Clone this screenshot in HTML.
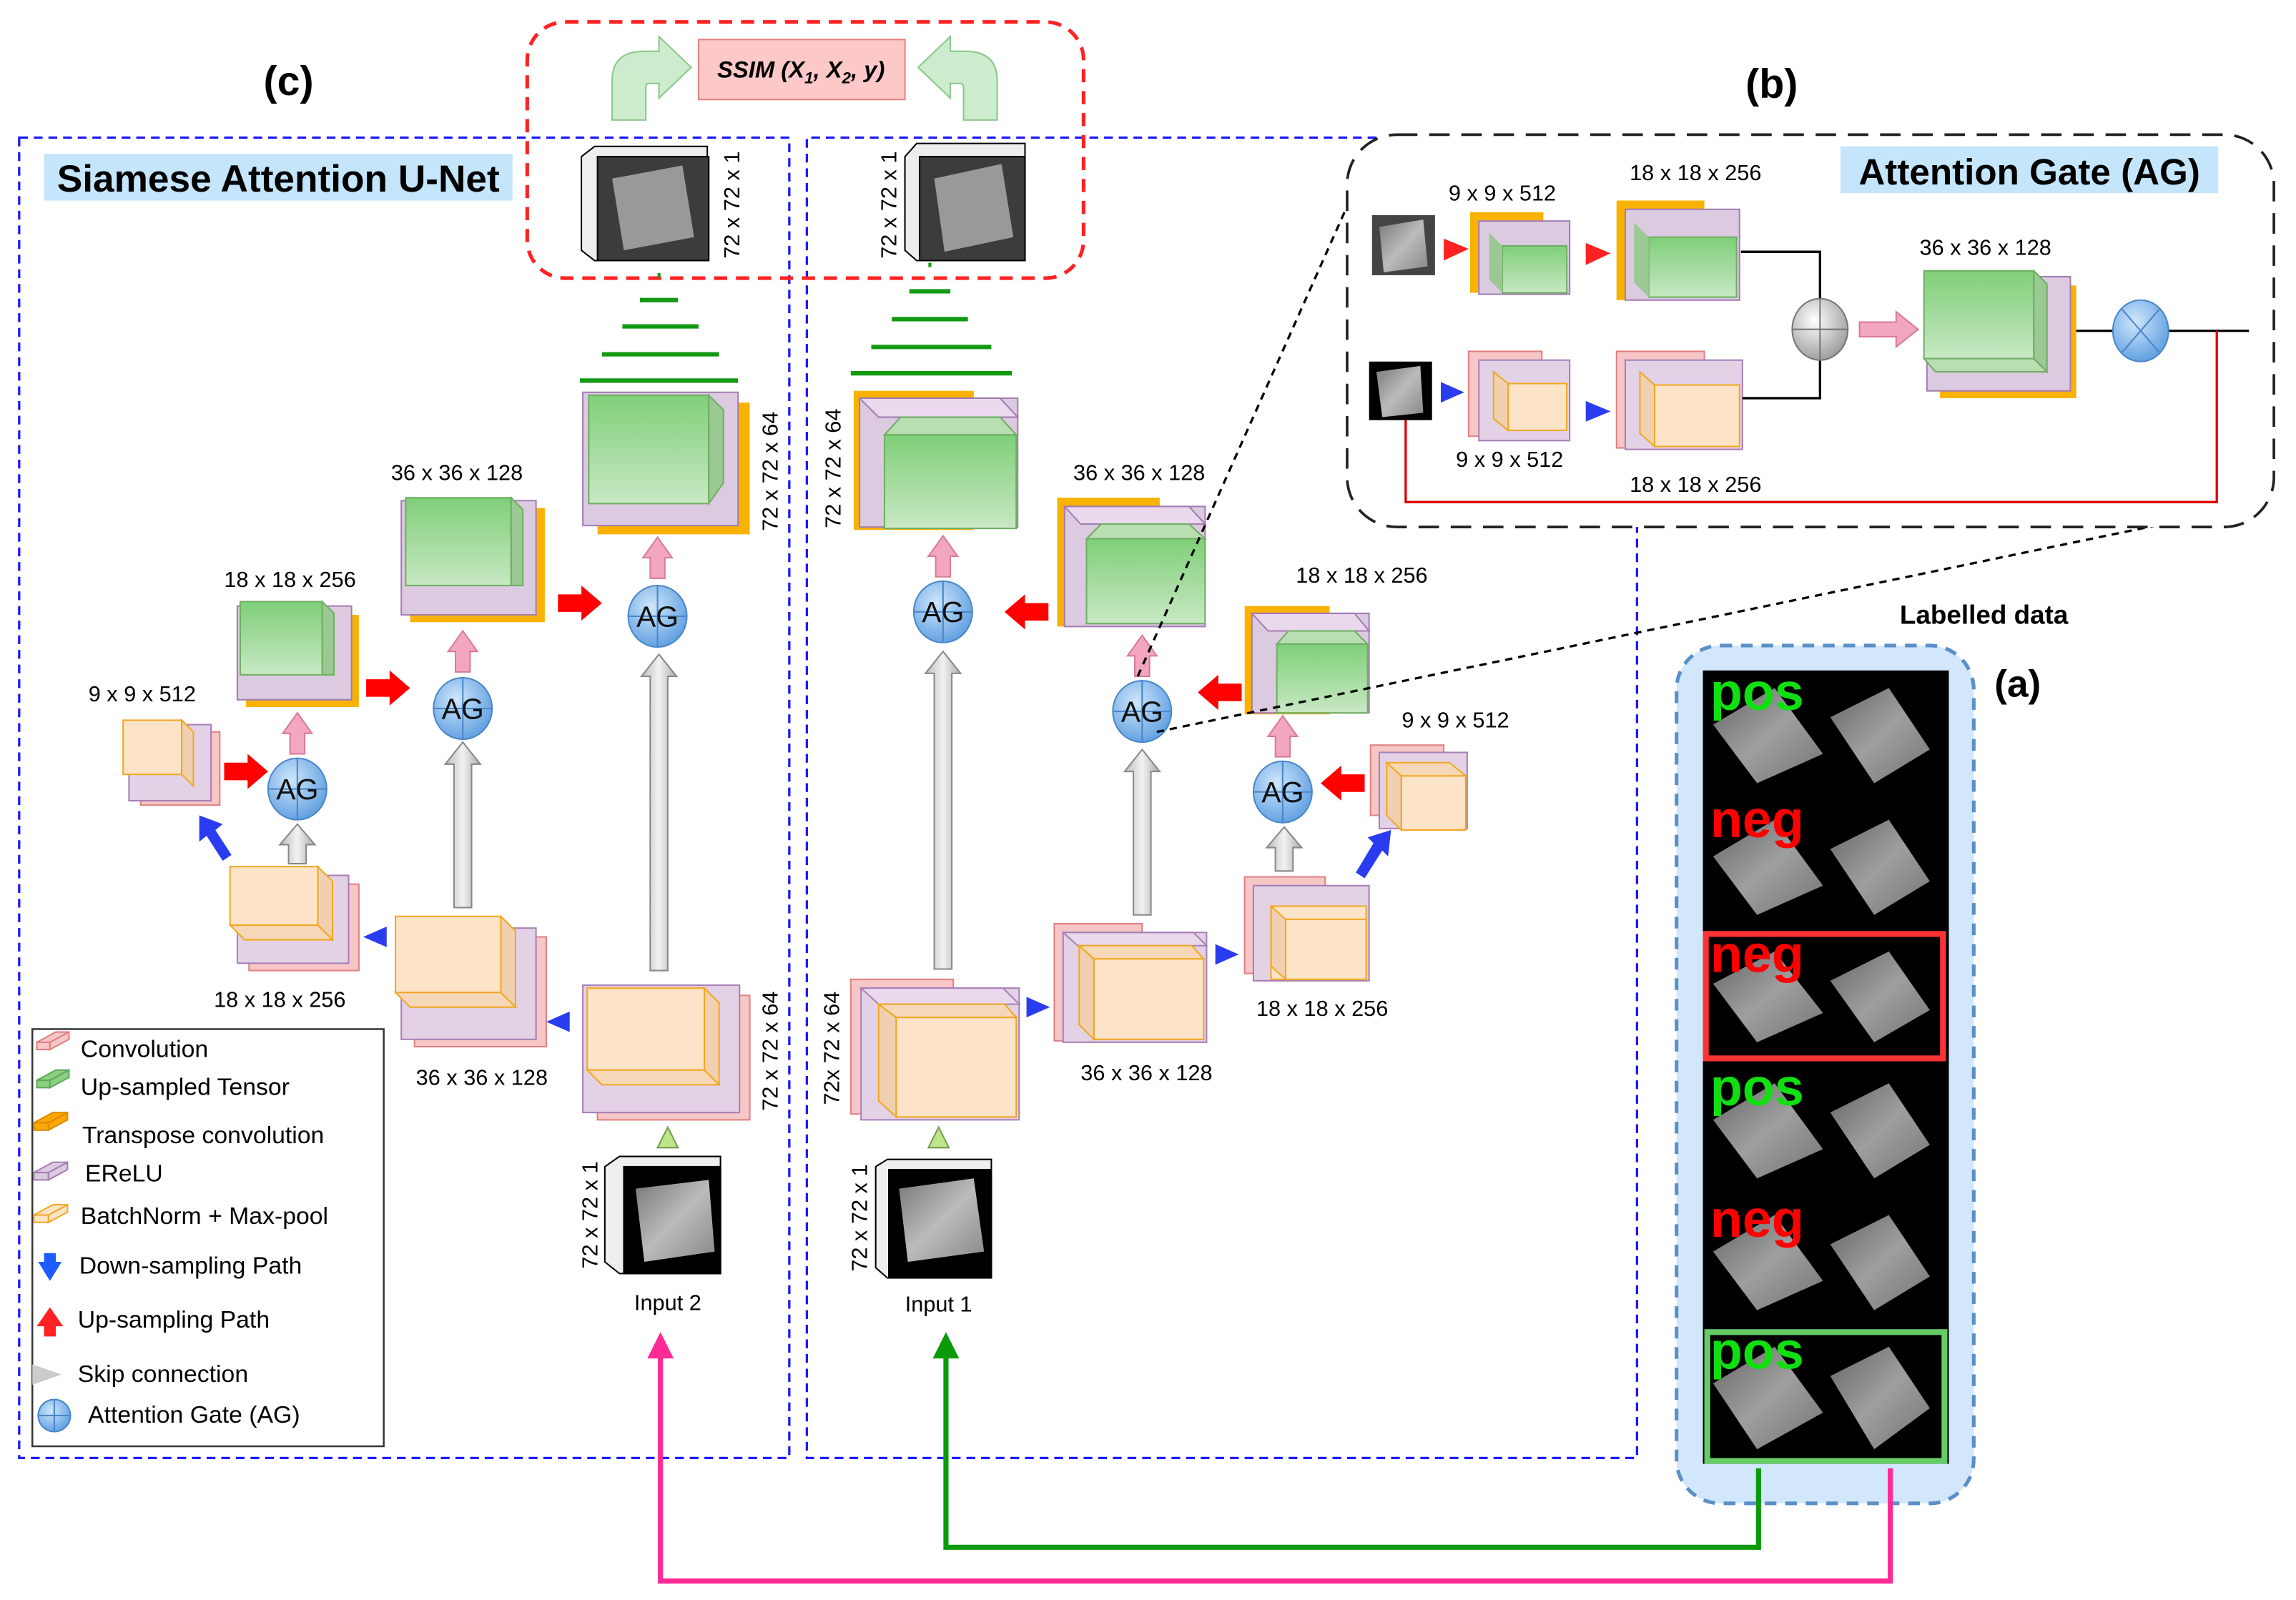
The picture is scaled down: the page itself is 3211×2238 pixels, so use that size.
<!DOCTYPE html>
<html><head><meta charset="utf-8"><style>
html,body{margin:0;padding:0;background:#fff}
svg{display:block}
text{font-family:"Liberation Sans",Arial,sans-serif}
</style></head><body>
<svg width="3211" height="2238" viewBox="0 0 1568 1093" xmlns="http://www.w3.org/2000/svg">
<defs>
<linearGradient id="gg" x1="0" y1="0" x2="0" y2="1"><stop offset="0" stop-color="#7fcf78"/><stop offset="1" stop-color="#c8e8c4"/></linearGradient>
<linearGradient id="gray" x1="0" y1="0" x2="1" y2="0"><stop offset="0" stop-color="#bbb"/><stop offset=".5" stop-color="#f2f2f2"/><stop offset="1" stop-color="#aaa"/></linearGradient>
<radialGradient id="ag" cx=".4" cy=".35" r=".7"><stop offset="0" stop-color="#cfe6fb"/><stop offset="1" stop-color="#5c9de0"/></radialGradient>
<radialGradient id="sg" cx=".4" cy=".35" r=".7"><stop offset="0" stop-color="#fff"/><stop offset="1" stop-color="#999"/></radialGradient>
<linearGradient id="img" x1="0" y1="0" x2="1" y2="1"><stop offset="0" stop-color="#777"/><stop offset=".5" stop-color="#bbb"/><stop offset="1" stop-color="#888"/></linearGradient>
<g id="agc"><ellipse cx="0" cy="0" rx="20" ry="21" fill="url(#ag)" stroke="#4a86c8" stroke-width="1"/><line x1="-20" y1="0" x2="20" y2="0" stroke="#4a86c8"/><line x1="0" y1="-21" x2="0" y2="21" stroke="#4a86c8"/><text x="0" y="7" font-size="20" text-anchor="middle" fill="#111">AG</text></g>
<g id="pup"><polygon points="0,-14 -10,0 -5,0 -5,14 5,14 5,0 10,0" fill="#f2a6c0" stroke="#d87a9c"/></g>
<g id="rr"><polygon points="0,-6 16,-6 16,-12 30,0 16,12 16,6 0,6" fill="#f00"/></g>
<g id="rl"><polygon points="0,-6 -16,-6 -16,-12 -30,0 -16,12 -16,6 0,6" fill="#f00"/></g>
</defs>

<text x="197" y="65" font-size="28" font-weight="bold" text-anchor="middle">(c)</text>
<text x="1210" y="67" font-size="28" font-weight="bold" text-anchor="middle">(b)</text>

<rect x="13" y="94" width="526" height="902" fill="none" stroke="#1a1aff" stroke-width="1.6" stroke-dasharray="6,4"/>
<path d="M940,94 L551,94 L551,996 L1118,996 L1118,356" fill="none" stroke="#1a1aff" stroke-width="1.6" stroke-dasharray="6,4"/>

<rect x="360" y="15" width="380" height="175" rx="26" fill="none" stroke="#f22" stroke-width="2.5" stroke-dasharray="9,6"/>
<rect x="477" y="27" width="141" height="41" fill="#fdc8c8" stroke="#e98080"/>
<text x="547" y="53" font-size="16" font-weight="bold" font-style="italic" text-anchor="middle">SSIM (X<tspan font-size="11" dy="4">1</tspan><tspan dy="-4">, X</tspan><tspan font-size="11" dy="4">2</tspan><tspan dy="-4">, y)</tspan></text>
<path d="M418,82 L418,55 Q418,35 440,35 L450,35 L450,25 L472,46 L450,67 L450,57 L443,57 Q441,57 441,60 L441,82 Z" fill="#cdeccd" stroke="#8bc78b"/>
<path d="M681,82 L681,55 Q681,35 659,35 L649,35 L649,25 L627,46 L649,67 L649,57 L656,57 Q658,57 658,60 L658,82 Z" fill="#cdeccd" stroke="#8bc78b"/>

<rect x="30" y="105" width="320" height="32" fill="#c5e5fb"/>
<text x="190" y="131" font-size="26" font-weight="bold" text-anchor="middle">Siamese Attention U-Net</text>

<!-- output images -->
<polygon points="397,107 406,100 483,100 483,178 406,178 397,171" fill="#eee" stroke="#000"/>
<rect x="408" y="107" width="76" height="71" fill="#3c3c3c" stroke="#000"/>
<polygon points="418,122 466,113 474,162 426,171" fill="#999"/>
<text transform="rotate(-90 505 140)" x="505" y="140" font-size="15" text-anchor="middle">72 x 72 x 1</text>
<polygon points="618,107 626,98 700,98 700,178 626,178 618,171" fill="#eee" stroke="#000"/>
<rect x="628" y="107" width="72" height="71" fill="#3c3c3c" stroke="#000"/>
<polygon points="638,122 684,112 692,162 645,172" fill="#999"/>
<text transform="rotate(-90 612 140)" x="612" y="140" font-size="15" text-anchor="middle">72 x 72 x 1</text>

<g stroke="#139a13" stroke-width="3">
<line x1="449" y1="188" x2="451" y2="188"/><line x1="437" y1="205" x2="463" y2="205"/><line x1="425" y1="223" x2="477" y2="223"/><line x1="411" y1="242" x2="491" y2="242"/><line x1="396" y1="260" x2="504" y2="260"/>
<line x1="634" y1="181" x2="636" y2="181"/><line x1="621" y1="199" x2="649" y2="199"/><line x1="609" y1="218" x2="661" y2="218"/><line x1="595" y1="237" x2="677" y2="237"/><line x1="581" y1="255" x2="691" y2="255"/>
</g>

<!-- LEFT decoder -->
<rect x="408" y="275" width="104" height="90" fill="#f9b200"/>
<rect x="398" y="268" width="106" height="91" fill="#dccbe0" stroke="#a37cb3"/>
<rect x="402" y="270" width="82" height="74" fill="url(#gg)" stroke="#6fae63"/>
<polygon points="484,270 494,280 494,330 484,344" fill="#9ac993" stroke="#6fae63"/>
<text transform="rotate(-90 531 322)" x="531" y="322" font-size="15" text-anchor="middle">72 x 72 x 64</text>
<text x="312" y="328" font-size="15" text-anchor="middle">36 x 36 x 128</text>
<rect x="280" y="347" width="92" height="78" fill="#f9b200"/>
<rect x="274" y="342" width="92" height="78" fill="#dccbe0" stroke="#a37cb3"/>
<rect x="277" y="340" width="72" height="60" fill="url(#gg)" stroke="#6fae63"/>
<polygon points="349,340 357,348 357,400 349,400" fill="#9ac993" stroke="#6fae63"/>
<text x="198" y="401" font-size="15" text-anchor="middle">18 x 18 x  256</text>
<rect x="168" y="420" width="77" height="63" fill="#f9b200"/>
<rect x="162" y="414" width="78" height="64" fill="#dccbe0" stroke="#a37cb3"/>
<rect x="164" y="411" width="56" height="50" fill="url(#gg)" stroke="#6fae63"/>
<polygon points="220,411 228,419 228,461 220,461" fill="#9ac993" stroke="#6fae63"/>
<text x="97" y="479" font-size="15" text-anchor="middle">9 x 9 x  512</text>
<rect x="96" y="500" width="54" height="50" fill="#f7c6c6" stroke="#e08080"/>
<rect x="88" y="495" width="56" height="52" fill="#e3d2e6" stroke="#a880b8"/>
<rect x="84" y="492" width="40" height="37" fill="#fde4c8" stroke="#f0a820"/>
<polygon points="124,492 132,500 132,537 124,529" fill="#f0d0b0" stroke="#f0a820"/>

<use href="#agc" x="203" y="539"/>
<use href="#agc" x="316" y="484"/>
<use href="#agc" x="449" y="421"/>
<use href="#pup" x="203" y="501"/>
<use href="#pup" x="316" y="445"/>
<use href="#pup" x="449" y="381"/>
<use href="#rr" x="153" y="527"/>
<use href="#rr" x="250" y="470"/>
<use href="#rr" x="381" y="412"/>
<polygon points="203,563 191,577 197,577 197,590 209,590 209,577 215,577" fill="url(#gray)" stroke="#888"/>
<polygon points="316,507 304,522 310,522 310,620 322,620 322,522 328,522" fill="url(#gray)" stroke="#888"/>
<polygon points="450,447 438,462 444,462 444,663 456,663 456,462 462,462" fill="url(#gray)" stroke="#888"/>
<polygon points="136,557 152,563 147,567 158,584 152,588 141,571 136,575" fill="#2a3cf0"/>

<!-- LEFT encoder -->
<rect x="170" y="604" width="75" height="59" fill="#f7c6c6" stroke="#e08080"/>
<rect x="162" y="598" width="76" height="60" fill="#e3d2e6" stroke="#a880b8"/>
<rect x="157" y="592" width="60" height="40" fill="#fde4c8" stroke="#f0a820"/>
<polygon points="217,592 227,602 227,642 217,632" fill="#f0d0b0" stroke="#f0a820"/>
<polygon points="157,632 217,632 227,642 167,642" fill="#f6d8b8" stroke="#f0a820"/>
<text x="191" y="688" font-size="15" text-anchor="middle">18 x 18 x  256</text>
<polygon points="248,640 264,633 264,647" fill="#2a3cf0"/>
<rect x="283" y="640" width="90" height="75" fill="#f7c6c6" stroke="#e08080"/>
<rect x="274" y="634" width="92" height="76" fill="#e3d2e6" stroke="#a880b8"/>
<rect x="270" y="626" width="72" height="52" fill="#fde4c8" stroke="#f0a820"/>
<polygon points="342,626 352,636 352,688 342,678" fill="#f0d0b0" stroke="#f0a820"/>
<polygon points="270,678 342,678 352,688 280,688" fill="#f6d8b8" stroke="#f0a820"/>
<text x="329" y="741" font-size="15" text-anchor="middle">36 x 36 x  128</text>
<polygon points="373,698 389,691 389,705" fill="#2a3cf0"/>
<rect x="408" y="680" width="104" height="85" fill="#f7c6c6" stroke="#e08080"/>
<rect x="398" y="673" width="107" height="87" fill="#e3d2e6" stroke="#a880b8"/>
<rect x="401" y="675" width="80" height="56" fill="#fde4c8" stroke="#f0a820"/>
<polygon points="481,675 491,685 491,741 481,731" fill="#f0d0b0" stroke="#f0a820"/>
<polygon points="401,731 481,731 491,741 411,741" fill="#f6d8b8" stroke="#f0a820"/>
<text transform="rotate(-90 531 718)" x="531" y="718" font-size="15" text-anchor="middle">72 x 72 x 64</text>
<polygon points="456,770 449,784 463,784" fill="#bde58a" stroke="#7a9a50"/>
<!-- input 2 -->
<polygon points="413,797 423,790 492,790 492,870 423,870 413,862" fill="#eee" stroke="#000"/>
<rect x="426" y="797" width="66" height="73" fill="#000" stroke="#000"/>
<polygon points="434,812 484,806 488,855 440,862" fill="url(#img)"/>
<text transform="rotate(-90 408 830)" x="408" y="830" font-size="15" text-anchor="middle">72 x 72 x 1</text>
<text x="456" y="895" font-size="15" text-anchor="middle">Input 2</text>

<!-- legend -->
<rect x="22" y="703" width="240" height="285" fill="#fff" stroke="#333" stroke-width="1.2"/>
<g stroke-width="1">
<polygon points="25,712 38,705 47,705 34,712" fill="#f7c6c6" stroke="#e08080"/><rect x="25" y="712" width="9" height="5" fill="#f7c6c6" stroke="#e08080"/><polygon points="34,712 47,705 47,710 34,717" fill="#f7c6c6" stroke="#e08080"/>
<polygon points="25,738 38,731 47,731 34,738" fill="#8bd080" stroke="#5fa85a"/><rect x="25" y="738" width="9" height="5" fill="#8bd080" stroke="#5fa85a"/><polygon points="34,738 47,731 47,736 34,743" fill="#8bd080" stroke="#5fa85a"/>
<polygon points="23,767 36,760 46,760 33,767" fill="#f9a800" stroke="#e08a00"/><rect x="23" y="767" width="10" height="5" fill="#f9a800" stroke="#e08a00"/><polygon points="33,767 46,760 46,765 33,772" fill="#f9a800" stroke="#e08a00"/>
<polygon points="23,801 36,794 46,794 33,801" fill="#dccbe0" stroke="#a37cb3"/><rect x="23" y="801" width="10" height="5" fill="#dccbe0" stroke="#a37cb3"/><polygon points="33,801 46,794 46,799 33,806" fill="#dccbe0" stroke="#a37cb3"/>
<polygon points="23,830 36,823 46,823 33,830" fill="#fde4c8" stroke="#f0a820"/><rect x="23" y="830" width="10" height="5" fill="#fde4c8" stroke="#f0a820"/><polygon points="33,830 46,823 46,828 33,835" fill="#fde4c8" stroke="#f0a820"/>
</g>
<polygon points="30,856 38,856 38,862 42,862 34,875 26,862 30,862" fill="#1a5cff"/>
<polygon points="34,893 43,906 38,906 38,913 30,913 30,906 25,906" fill="#f22"/>
<polygon points="22,932 42,939 22,946" fill="#ccc"/>
<ellipse cx="37" cy="967" rx="11" ry="11" fill="url(#ag)" stroke="#4a86c8"/><line x1="26" y1="967" x2="48" y2="967" stroke="#4a86c8"/><line x1="37" y1="956" x2="37" y2="978" stroke="#4a86c8"/>
<g font-size="16.5">
<text x="55" y="722">Convolution</text>
<text x="55" y="748">Up-sampled Tensor</text>
<text x="56" y="781">Transpose convolution</text>
<text x="58" y="807">EReLU</text>
<text x="55" y="836">BatchNorm + Max-pool</text>
<text x="54" y="870">Down-sampling  Path</text>
<text x="53" y="907">Up-sampling  Path</text>
<text x="53" y="944">Skip connection</text>
<text x="60" y="972">Attention Gate (AG)</text>
</g>

<!-- RIGHT decoder -->
<rect x="583" y="267" width="82" height="95" fill="#f9b200"/>
<rect x="587" y="272" width="108" height="88" fill="#dccbe0" stroke="#a37cb3"/>
<polygon points="587,272 600,285 695,285 683,272" fill="#ead9ec" stroke="#a37cb3"/>
<rect x="604" y="297" width="90" height="64" fill="url(#gg)" stroke="#6fae63"/>
<polygon points="604,297 615,285 683,285 694,297" fill="#b9deb2" stroke="#6fae63"/>
<text transform="rotate(-90 574 320)" x="574" y="320" font-size="15" text-anchor="middle">72 x 72 x 64</text>
<use href="#agc" x="644" y="418"/>
<use href="#pup" x="644" y="380"/>
<use href="#rl" x="716" y="418"/>
<polygon points="644,445 632,460 638,460 638,662 650,662 650,460 656,460" fill="url(#gray)" stroke="#888"/>

<text x="778" y="328" font-size="15" text-anchor="middle">36 x 36 x  128</text>
<rect x="722" y="340" width="70" height="88" fill="#f9b200"/>
<rect x="727" y="346" width="96" height="82" fill="#dccbe0" stroke="#a37cb3"/>
<polygon points="727,346 738,358 823,358 812,346" fill="#ead9ec" stroke="#a37cb3"/>
<rect x="742" y="368" width="81" height="58" fill="url(#gg)" stroke="#6fae63"/>
<polygon points="742,368 752,358 812,358 823,368" fill="#b9deb2" stroke="#6fae63"/>
<use href="#agc" x="780" y="486"/>
<use href="#pup" x="780" y="448"/>
<use href="#rl" x="848" y="473"/>
<polygon points="780,512 768,527 774,527 774,625 786,625 786,527 792,527" fill="url(#gray)" stroke="#888"/>

<text x="930" y="398" font-size="15" text-anchor="middle">18 x 18 x  256</text>
<rect x="850" y="414" width="58" height="74" fill="#f9b200"/>
<rect x="855" y="419" width="80" height="68" fill="#dccbe0" stroke="#a37cb3"/>
<polygon points="855,419 866,431 935,431 925,419" fill="#ead9ec" stroke="#a37cb3"/>
<rect x="872" y="440" width="62" height="47" fill="url(#gg)" stroke="#6fae63"/>
<polygon points="872,440 880,431 925,431 934,440" fill="#b9deb2" stroke="#6fae63"/>
<use href="#agc" x="876" y="541"/>
<use href="#pup" x="876" y="503"/>
<use href="#rl" x="932" y="535"/>
<polygon points="877,565 865,579 871,579 871,595 883,595 883,579 889,579" fill="url(#gray)" stroke="#888"/>

<text x="994" y="497" font-size="15" text-anchor="middle">9 x 9 x  512</text>
<rect x="936" y="509" width="50" height="48" fill="#f7c6c6" stroke="#e08080"/>
<rect x="942" y="514" width="60" height="52" fill="#e3d2e6" stroke="#a880b8"/>
<rect x="957" y="530" width="44" height="37" fill="#fde4c8" stroke="#f0a820"/>
<polygon points="947,521 957,530 957,567 947,557" fill="#f0d0b0" stroke="#f0a820"/>
<polygon points="947,521 990,521 1001,530 957,530" fill="#f6d8b8" stroke="#f0a820"/>
<polygon points="950,567 934,572 938,576 926,596 932,600 944,581 948,585" fill="#2a3cf0"/>

<!-- RIGHT encoder -->
<rect x="581" y="669" width="70" height="92" fill="#f7c6c6" stroke="#e08080"/>
<rect x="588" y="675" width="108" height="90" fill="#e3d2e6" stroke="#a880b8"/>
<polygon points="588,675 600,686 696,686 685,675" fill="#ead9ec" stroke="#a880b8"/>
<rect x="612" y="695" width="82" height="68" fill="#fde4c8" stroke="#f0a820"/>
<polygon points="600,686 612,695 612,763 600,752" fill="#f0d0b0" stroke="#f0a820"/>
<polygon points="600,686 686,686 694,695 612,695" fill="#f6d8b8" stroke="#f0a820"/>
<text transform="rotate(-90 573 716)" x="573" y="716" font-size="15" text-anchor="middle">72x 72 x 64</text>
<polygon points="717,688 701,681 701,695" fill="#2a3cf0"/>
<rect x="720" y="631" width="60" height="80" fill="#f7c6c6" stroke="#e08080"/>
<rect x="726" y="637" width="98" height="75" fill="#e3d2e6" stroke="#a880b8"/>
<polygon points="726,637 736,646 824,646 815,637" fill="#ead9ec" stroke="#a880b8"/>
<rect x="747" y="655" width="75" height="55" fill="#fde4c8" stroke="#f0a820"/>
<polygon points="737,646 747,655 747,710 737,700" fill="#f0d0b0" stroke="#f0a820"/>
<polygon points="737,646 814,646 822,655 747,655" fill="#f6d8b8" stroke="#f0a820"/>
<text x="783" y="738" font-size="15" text-anchor="middle">36 x 36 x  128</text>
<polygon points="846,652 830,645 830,659" fill="#2a3cf0"/>
<rect x="850" y="599" width="55" height="66" fill="#f7c6c6" stroke="#e08080"/>
<rect x="856" y="605" width="79" height="65" fill="#e3d2e6" stroke="#a880b8"/>
<rect x="868" y="619" width="65" height="50" fill="#fde4c8" stroke="#f0a820"/>
<polygon points="868,619 878,628 878,669 868,660" fill="#f0d0b0" stroke="#f0a820"/>
<rect x="878" y="628" width="55" height="41" fill="#fde4c8" stroke="#f0a820"/>
<text x="903" y="694" font-size="15" text-anchor="middle">18 x 18 x  256</text>
<polygon points="641,770 634,784 648,784" fill="#bde58a" stroke="#7a9a50"/>
<!-- input 1 -->
<polygon points="598,797 606,792 677,792 677,873 606,873 598,866" fill="#eee" stroke="#000"/>
<rect x="607" y="799" width="70" height="74" fill="#000" stroke="#000"/>
<polygon points="614,812 665,805 672,855 620,862" fill="url(#img)"/>
<text transform="rotate(-90 592 832)" x="592" y="832" font-size="15" text-anchor="middle">72 x 72 x 1</text>
<text x="641" y="896" font-size="15" text-anchor="middle">Input 1</text>

<line x1="777" y1="462" x2="940" y2="96" stroke="#000" stroke-width="1.6" stroke-dasharray="5,4"/>
<line x1="790" y1="500" x2="1540" y2="345" stroke="#000" stroke-width="1.6" stroke-dasharray="5,4"/>

<!-- (b) -->
<rect x="920" y="92" width="633" height="268" rx="34" fill="#fff" stroke="#222" stroke-width="1.8" stroke-dasharray="14,8"/>
<rect x="1257" y="100" width="258" height="32" fill="#c5e5fb"/>
<text x="1386" y="126" font-size="25" font-weight="bold" text-anchor="middle">Attention Gate (AG)</text>
<text x="1026" y="137" font-size="15" text-anchor="middle">9 x 9 x  512</text>
<text x="1158" y="123" font-size="15" text-anchor="middle">18 x 18 x  256</text>
<text x="1356" y="174" font-size="15" text-anchor="middle">36 x 36 x 128</text>
<text x="1031" y="319" font-size="15" text-anchor="middle">9 x 9 x  512</text>
<text x="1158" y="336" font-size="15" text-anchor="middle">18 x 18 x  256</text>
<rect x="937" y="147" width="43" height="41" fill="#444"/>
<polygon points="942,155 972,150 975,182 945,186" fill="url(#img)"/>
<rect x="935" y="247" width="43" height="40" fill="#000"/>
<polygon points="940,254 970,250 972,282 944,285" fill="url(#img)"/>
<polygon points="986,163 1003,170 986,178" fill="#f22"/>
<polygon points="1083,166 1100,173 1083,181" fill="#f22"/>
<polygon points="984,261 1000,268 984,275" fill="#2a3cf0"/>
<polygon points="1083,274 1100,281 1083,288" fill="#2a3cf0"/>
<rect x="1004" y="145" width="50" height="55" fill="#f9b200"/>
<rect x="1010" y="151" width="62" height="50" fill="#dccbe0" stroke="#a37cb3"/>
<rect x="1026" y="168" width="44" height="32" fill="url(#gg)" stroke="#6fae63"/>
<polygon points="1017,159 1026,168 1026,200 1017,191" fill="#9ac993"/>
<rect x="1104" y="137" width="60" height="68" fill="#f9b200"/>
<rect x="1110" y="143" width="78" height="62" fill="#dccbe0" stroke="#a37cb3"/>
<rect x="1126" y="162" width="60" height="41" fill="url(#gg)" stroke="#6fae63"/>
<polygon points="1116,152 1126,162 1126,203 1116,193" fill="#9ac993"/>
<rect x="1003" y="240" width="50" height="58" fill="#f7c6c6" stroke="#e08080"/>
<rect x="1010" y="246" width="62" height="55" fill="#e3d2e6" stroke="#a880b8"/>
<rect x="1030" y="262" width="40" height="32" fill="#fde4c8" stroke="#f0a820"/>
<polygon points="1020,254 1030,262 1030,294 1020,286" fill="#f0d0b0" stroke="#f0a820"/>
<rect x="1104" y="240" width="60" height="66" fill="#f7c6c6" stroke="#e08080"/>
<rect x="1110" y="246" width="80" height="61" fill="#e3d2e6" stroke="#a880b8"/>
<rect x="1130" y="263" width="58" height="42" fill="#fde4c8" stroke="#f0a820"/>
<polygon points="1120,254 1130,263 1130,305 1120,296" fill="#f0d0b0" stroke="#f0a820"/>
<path d="M1189,172 L1243,172 L1243,272 L1190,272" fill="none" stroke="#000" stroke-width="1.6"/>
<ellipse cx="1243" cy="225" rx="19" ry="21" fill="url(#sg)" stroke="#777"/>
<line x1="1224" y1="225" x2="1262" y2="225" stroke="#777"/><line x1="1243" y1="204" x2="1243" y2="246" stroke="#777"/>
<polygon points="1270,220 1295,220 1295,213 1310,225 1295,237 1295,230 1270,230" fill="#f2a6c0" stroke="#d87a9c"/>
<rect x="1325" y="195" width="93" height="77" fill="#f9b200"/>
<rect x="1316" y="189" width="98" height="78" fill="#dccbe0" stroke="#a37cb3"/>
<rect x="1314" y="185" width="75" height="60" fill="url(#gg)" stroke="#6fae63"/>
<polygon points="1389,185 1398,194 1398,254 1389,245" fill="#9ac993" stroke="#6fae63"/>
<polygon points="1314,245 1389,245 1398,254 1322,254" fill="#b9deb2" stroke="#6fae63"/>
<line x1="1418" y1="226" x2="1444" y2="226" stroke="#000" stroke-width="1.6"/>
<line x1="1480" y1="226" x2="1536" y2="226" stroke="#000" stroke-width="1.6"/>
<ellipse cx="1462" cy="226" rx="19" ry="21" fill="url(#ag)" stroke="#4a86c8"/>
<line x1="1449" y1="211" x2="1475" y2="241" stroke="#4a86c8"/><line x1="1475" y1="211" x2="1449" y2="241" stroke="#4a86c8"/>
<path d="M960,287 L960,343 L1514,343 L1514,226" fill="none" stroke="#d00" stroke-width="1.6"/>

<!-- (a) -->
<text x="1355" y="426" font-size="18" font-weight="bold" text-anchor="middle">Labelled data</text>
<text x="1378" y="476" font-size="26" font-weight="bold" text-anchor="middle">(a)</text>
<rect x="1145" y="441" width="203" height="586" rx="30" fill="#d2e7fb" stroke="#5a8fc8" stroke-width="2.5" stroke-dasharray="8,6"/>
<rect x="1163" y="458" width="168" height="542" fill="#000"/>
<g fill="url(#img)" opacity=".85">
<polygon points="1170,495 1212,470 1245,515 1200,535"/><polygon points="1250,490 1290,470 1318,512 1280,535"/>
<polygon points="1170,585 1212,560 1245,605 1200,625"/><polygon points="1250,580 1290,560 1318,602 1280,625"/>
<polygon points="1170,672 1212,650 1245,692 1200,712"/><polygon points="1250,670 1290,650 1318,690 1280,712"/>
<polygon points="1170,765 1212,740 1245,785 1200,805"/><polygon points="1250,760 1290,740 1318,782 1280,805"/>
<polygon points="1170,855 1212,830 1245,875 1200,895"/><polygon points="1250,850 1290,830 1318,872 1280,895"/>
<polygon points="1170,945 1212,920 1245,965 1200,990"/><polygon points="1250,940 1290,920 1318,962 1280,990"/>
</g>
<g font-size="36" font-weight="bold" font-family="Liberation Mono, monospace">
<text x="1168" y="485" fill="#10e010">pos</text>
<text x="1168" y="572" fill="#f00">neg</text>
<text x="1168" y="664" fill="#f00">neg</text>
<text x="1168" y="755" fill="#10e010">pos</text>
<text x="1168" y="845" fill="#f00">neg</text>
<text x="1168" y="935" fill="#10e010">pos</text>
</g>
<rect x="1165" y="638" width="162" height="85" fill="none" stroke="#f33" stroke-width="4"/>
<rect x="1166" y="910" width="162" height="88" fill="none" stroke="#6c6" stroke-width="4"/>

<path d="M1201,1003 L1201,1057 L646,1057 L646,925" fill="none" stroke="#0a9a0a" stroke-width="3.5"/>
<polygon points="646,910 637,928 655,928" fill="#0a9a0a"/>
<path d="M1291,1003 L1291,1080 L451,1080 L451,925" fill="none" stroke="#ff2a96" stroke-width="3.5"/>
<polygon points="451,910 442,928 460,928" fill="#ff2a96"/>
</svg>
</body></html>
